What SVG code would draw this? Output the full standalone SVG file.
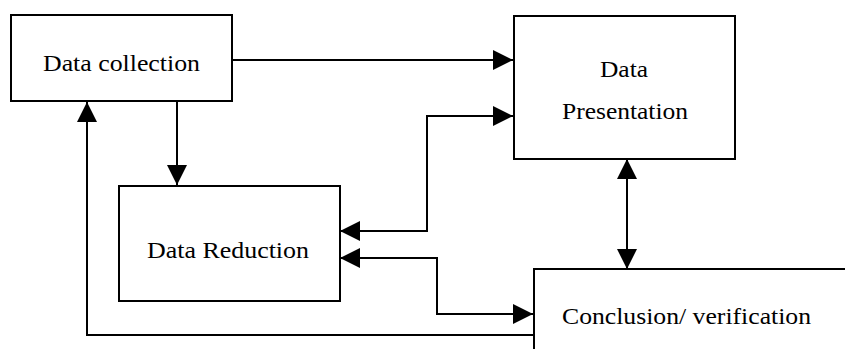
<svg xmlns="http://www.w3.org/2000/svg" width="845" height="349" viewBox="0 0 845 349">
<style>
.box{fill:#fff;stroke:#000;stroke-width:2}
.lbl{font-family:"Liberation Serif","Times New Roman",serif;font-size:24px;fill:#000}
.conn{fill:none;stroke:#000;stroke-width:2}
</style>
<defs>
<marker id="ah" viewBox="0 0 20 20" refX="20" refY="10" markerWidth="20" markerHeight="20" markerUnits="userSpaceOnUse" orient="auto-start-reverse">
<path d="M0,0 L20,10 L0,20 Z" fill="#000"/>
</marker>
</defs>
<rect width="845" height="349" fill="#fff"/>
<g id="connectors">
<path class="conn" d="M232,60 L513,60" marker-end="url(#ah)"/>
<path class="conn" d="M177,101 L177,185" marker-end="url(#ah)"/>
<path class="conn" d="M340,231 L427,231 L427,116 L513,116" marker-start="url(#ah)" marker-end="url(#ah)"/>
<path class="conn" d="M340,258 L437,258 L437,314 L533,314" marker-start="url(#ah)" marker-end="url(#ah)"/>
<path class="conn" d="M627,159 L627,269" marker-start="url(#ah)" marker-end="url(#ah)"/>
<path class="conn" d="M533,335 L87,335 L87,102" marker-end="url(#ah)"/>
</g>
<g id="data-collection">
<rect class="box" x="11" y="15" width="221" height="86"/>
<text class="lbl" x="43" y="71" textLength="157" lengthAdjust="spacingAndGlyphs">Data collection</text>
</g>
<g id="data-presentation">
<rect class="box" x="514" y="16" width="221" height="143"/>
<text class="lbl" x="600" y="77" textLength="48" lengthAdjust="spacingAndGlyphs">Data</text>
<text class="lbl" x="562" y="119" textLength="126" lengthAdjust="spacingAndGlyphs">Presentation</text>
</g>
<g id="data-reduction">
<rect class="box" x="119" y="186" width="221" height="115"/>
<text class="lbl" x="147" y="258" textLength="162" lengthAdjust="spacingAndGlyphs">Data Reduction</text>
</g>
<g id="conclusion">
<rect class="box" x="534" y="269" width="330" height="100"/>
<text class="lbl" x="562" y="324" textLength="249" lengthAdjust="spacingAndGlyphs">Conclusion/ verification</text>
</g>
</svg>
